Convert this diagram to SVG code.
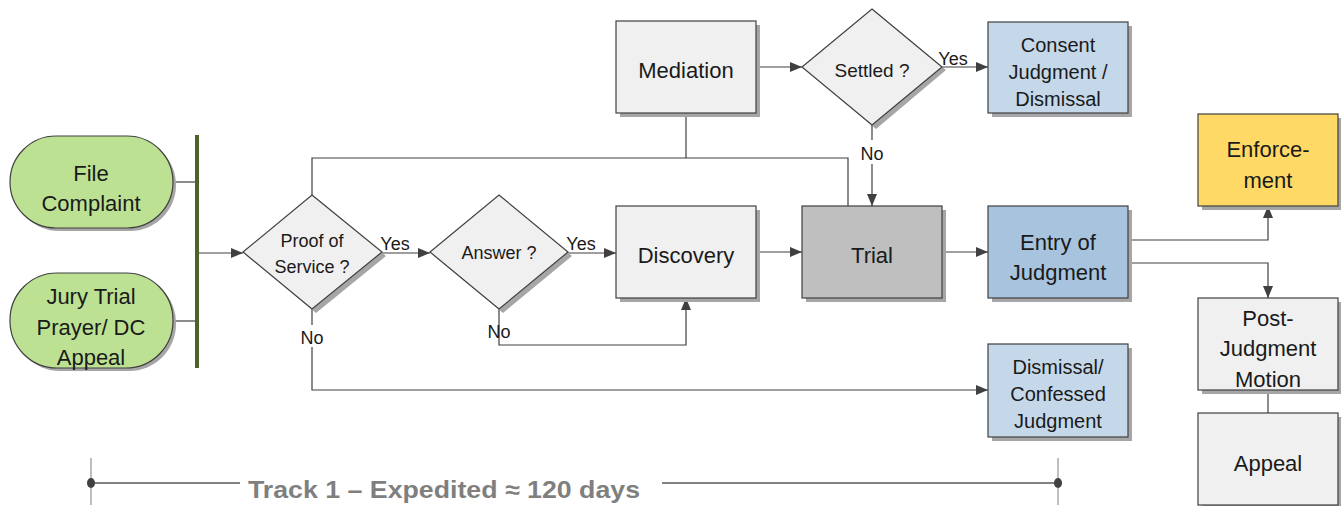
<svg xmlns="http://www.w3.org/2000/svg" width="1341" height="506" viewBox="0 0 1341 506">
<defs>
<marker id="ah" viewBox="0 0 12 10" refX="12" refY="5" markerWidth="12" markerHeight="10" markerUnits="userSpaceOnUse" orient="auto"><path d="M0,0 L12,5 L0,10 z" fill="#404040"/></marker>
<style>
.sh{fill:#a6a6a6}
.bx{stroke:#404040;stroke-width:1.2}
.g{fill:#f0f0f0}
.t{font-family:"Liberation Sans",Arial,sans-serif;fill:#1a1a1a;text-anchor:middle}
.c{fill:none;stroke:#404040;stroke-width:1.2}
.a{marker-end:url(#ah)}
.lbl{font-family:"Liberation Sans",Arial,sans-serif;fill:#1a1a1a;font-size:18px;text-anchor:middle}
</style>
</defs>
<rect width="1341" height="506" fill="#ffffff"/>

<g id="connectors">
<path class="c" d="M173,182 H196"/>
<path class="c" d="M173,321 H196"/>
<path class="c a" d="M198,253 H243"/>
<path class="c a" d="M382,253 H430"/>
<path class="c a" d="M568,253 H616"/>
<path class="c a" d="M756,252 H802"/>
<path class="c a" d="M942,252 H988"/>
<path class="c a" d="M1128,240 H1268 V206"/>
<path class="c a" d="M1128,263 H1268 V298"/>
<path class="c" d="M1268,390 V413"/>
<path class="c a" d="M756,67 H802"/>
<path class="c a" d="M942,67 H988"/>
<path class="c a" d="M872,125 V206"/>
<path class="c" d="M312,195 V158 H848 V206"/>
<path class="c" d="M686,113 V158"/>
<path class="c a" d="M312,309 V390 H988"/>
<path class="c a" d="M499,309 V345 H686 V298"/>
<rect x="298" y="325" width="28" height="22" fill="#fff"/>
<rect x="858" y="140" width="28" height="24" fill="#fff"/>
<text class="lbl" x="395" y="250">Yes</text>
<text class="lbl" x="581" y="250">Yes</text>
<text class="lbl" x="953" y="65">Yes</text>
<text class="lbl" x="312" y="344">No</text>
<text class="lbl" x="499" y="338">No</text>
<text class="lbl" x="872" y="160">No</text>
</g>

<g id="bar"><line x1="197" y1="135" x2="197" y2="368" stroke="#4f6228" stroke-width="4"/></g>

<g id="file-complaint">
<rect class="sh" x="13" y="139" width="163" height="92" rx="46"/>
<rect class="bx" x="10" y="136" width="163" height="92" rx="46" fill="#bde193"/>
<text class="t" font-size="22" x="91" y="181">File</text>
<text class="t" font-size="22" x="91" y="211">Complaint</text>
</g>

<g id="jury-trial">
<rect class="sh" x="13" y="276" width="163" height="95" rx="47"/>
<rect class="bx" x="10" y="273" width="163" height="95" rx="47" fill="#bde193"/>
<text class="t" font-size="22" x="91" y="304">Jury Trial</text>
<text class="t" font-size="22" x="91" y="335">Prayer/ DC</text>
<text class="t" font-size="22" x="91" y="365">Appeal</text>
</g>

<g id="proof-of-service">
<polygon class="sh" points="316,198 386,256 316,313 247,256"/>
<polygon class="bx" points="312,195 382,252 312,309 243,252" fill="#f0f0f0"/>
<text class="t" font-size="18" x="312" y="247">Proof of</text>
<text class="t" font-size="18" x="312" y="273">Service ?</text>
</g>

<g id="answer">
<polygon class="sh" points="503,198 572,256 503,313 434,256"/>
<polygon class="bx" points="499,195 568,252 499,309 430,252" fill="#f0f0f0"/>
<text class="t" font-size="18" x="499" y="259">Answer ?</text>
</g>

<g id="discovery">
<rect class="sh" x="620" y="210" width="140" height="92"/>
<rect class="bx g" x="616" y="206" width="140" height="92"/>
<text class="t" font-size="22" x="686" y="263">Discovery</text>
</g>

<g id="mediation">
<rect class="sh" x="620" y="25" width="140" height="92"/>
<rect class="bx g" x="616" y="21" width="140" height="92"/>
<text class="t" font-size="22" x="686" y="78">Mediation</text>
</g>

<g id="settled">
<polygon class="sh" points="876,12 946,70 876,129 806,70"/>
<polygon class="bx" points="872,9 942,67 872,125 802,67" fill="#f0f0f0"/>
<text class="t" font-size="19" x="872" y="77">Settled ?</text>
</g>

<g id="consent-judgment">
<rect class="sh" x="992" y="26" width="140" height="91"/>
<rect class="bx" x="988" y="22" width="140" height="91" fill="#c5d8ea"/>
<text class="t" font-size="20" x="1058" y="52">Consent</text>
<text class="t" font-size="20" x="1058" y="79">Judgment /</text>
<text class="t" font-size="20" x="1058" y="106">Dismissal</text>
</g>

<g id="trial">
<rect class="sh" x="806" y="210" width="140" height="92"/>
<rect class="bx" x="802" y="206" width="140" height="92" fill="#bfbfbf"/>
<text class="t" font-size="22" x="872" y="263">Trial</text>
</g>

<g id="entry-of-judgment">
<rect class="sh" x="992" y="210" width="140" height="92"/>
<rect class="bx" x="988" y="206" width="140" height="92" fill="#a7c3de"/>
<text class="t" font-size="22" x="1058" y="250">Entry of</text>
<text class="t" font-size="22" x="1058" y="280">Judgment</text>
</g>

<g id="dismissal-confessed">
<rect class="sh" x="992" y="348" width="140" height="93"/>
<rect class="bx" x="988" y="344" width="140" height="93" fill="#c5d8ea"/>
<text class="t" font-size="20" x="1058" y="374">Dismissal/</text>
<text class="t" font-size="20" x="1058" y="401">Confessed</text>
<text class="t" font-size="20" x="1058" y="428">Judgment</text>
</g>

<g id="enforcement">
<rect class="sh" x="1202" y="118" width="140" height="92"/>
<rect class="bx" x="1198" y="114" width="140" height="92" fill="#ffd966"/>
<text class="t" font-size="22" x="1268" y="157">Enforce-</text>
<text class="t" font-size="22" x="1268" y="188">ment</text>
</g>

<g id="post-judgment-motion">
<rect class="sh" x="1202" y="302" width="140" height="92"/>
<rect class="bx g" x="1198" y="298" width="140" height="92"/>
<text class="t" font-size="22" x="1268" y="326">Post-</text>
<text class="t" font-size="22" x="1268" y="356">Judgment</text>
<text class="t" font-size="22" x="1268" y="387">Motion</text>
</g>

<g id="appeal">
<rect class="sh" x="1202" y="417" width="140" height="92"/>
<rect class="bx g" x="1198" y="413" width="140" height="92"/>
<text class="t" font-size="22" x="1268" y="471">Appeal</text>
</g>

<g id="timeline">
<line x1="91" y1="458" x2="91" y2="505" stroke="#7f7f7f" stroke-width="1"/>
<line x1="1058" y1="458" x2="1058" y2="505" stroke="#7f7f7f" stroke-width="1"/>
<line x1="91" y1="483" x2="240" y2="483" stroke="#595959" stroke-width="1.5"/>
<line x1="662" y1="483" x2="1058" y2="483" stroke="#595959" stroke-width="1.5"/>
<ellipse cx="91" cy="483" rx="4" ry="5" fill="#404040"/>
<ellipse cx="1058" cy="483" rx="4" ry="5" fill="#404040"/>
<text x="248" y="498" font-family="Liberation Sans,Arial,sans-serif" font-weight="bold" font-size="24" fill="#7f7f7f" textLength="392" lengthAdjust="spacingAndGlyphs">Track 1 – Expedited ≈ 120 days</text>
</g>
</svg>
